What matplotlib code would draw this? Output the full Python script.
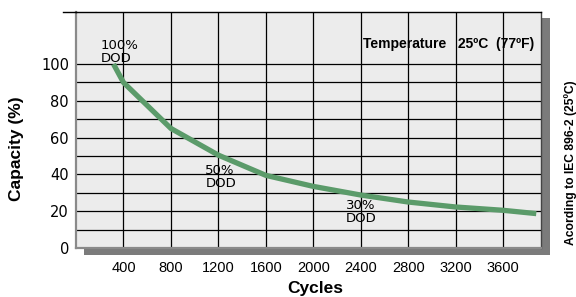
import matplotlib
matplotlib.use('Agg')
import matplotlib.pyplot as plt
from matplotlib.patches import Rectangle
from matplotlib.lines import Line2D
from matplotlib import font_manager

# data
cycles = [316, 400, 800, 1200, 1600, 2000, 2400, 2800, 3200, 3600, 3880]
capacity = [100, 90, 65, 50.5, 39.5, 33.5, 28.8, 25.0, 22.3, 20.5, 18.7]
x_ticks = [400, 800, 1200, 1600, 2000, 2400, 2800, 3200, 3600]
y_ticks = [0, 20, 40, 60, 80, 100]
dod_labels = ['100%\nDOD', '50%\nDOD', '30%\nDOD']

names = set(f.name for f in font_manager.fontManager.ttflist)
narrow = 'Liberation Sans Narrow' if 'Liberation Sans Narrow' in names else 'Liberation Sans'

W, H = 576, 297
fig = plt.figure(figsize=(W / 100, H / 100), dpi=100)
fig.patch.set_facecolor('white')

# plot box in pixels (from top-left)
L, R, T, B = 76, 541, 12, 248
ax = fig.add_axes([L / W, 1 - B / H, (R - L) / W, (B - T) / H])
ax.set_facecolor('#ececec')
ax.set_zorder(2)

# drop shadow behind the box
shadow = Rectangle((84 / W, 1 - 255 / H), (550 - 84) / W, (255 - 18) / H,
                   transform=fig.transFigure, facecolor='#7b7b7b',
                   edgecolor='none', zorder=-1)
fig.add_artist(shadow)
fig.add_artist(Line2D([63 / W, L / W], [1 - T / H, 1 - T / H],
                      transform=fig.transFigure, color='black', lw=1.0, zorder=3))

ax.set_xlim(0, 3920)
ax.set_ylim(0, 128.3)

for gx in x_ticks:
    ax.axvline(gx, color='black', lw=0.9, zorder=1)
for gy in range(10, 101, 10):
    ax.axhline(gy, color='black', lw=0.9, zorder=1)

ax.plot(cycles, capacity, color='#5b9b6a', lw=3.8, solid_capstyle='butt', zorder=3)

ax.text(206, 113.5, dod_labels[0], fontsize=9.5, family='DejaVu Sans', va='top',
        linespacing=0.95, zorder=4)
ax.text(1090, 45.5, dod_labels[1], fontsize=9.5, family='DejaVu Sans', va='top',
        linespacing=0.95, zorder=4)
ax.text(2275, 26.5, dod_labels[2], fontsize=9.5, family='DejaVu Sans', va='top',
        linespacing=0.95, zorder=4)

ax.text((363 - L) / (R - L), 0.866, 'Temperature   25ºC  (77ºF)', transform=ax.transAxes,
        fontsize=10, fontweight='bold', family=narrow, va='center', ha='left')

ax.set_xticks(x_ticks)
ax.set_xticklabels([str(v) for v in x_ticks], family=narrow, fontsize=10.5)
ax.set_yticks(y_ticks)
ax.set_yticklabels([str(v) for v in y_ticks], family='DejaVu Sans', fontsize=10.5)
ax.tick_params(axis='both', length=0)
ax.tick_params(axis='x', pad=9)
ax.tick_params(axis='y', pad=5)

ax.set_xlabel('Cycles', fontsize=12.5, fontweight='bold', family=narrow)
ax.xaxis.set_label_coords((315 - L) / (R - L), -(288 - B) / (B - T))
ax.xaxis.label.set_va('center')
ax.set_ylabel('Capacity (%)', fontsize=12.5, fontweight='bold', family=narrow)
ax.yaxis.set_label_coords(-(L - 17) / (R - L), (B - 149) / (B - T))
ax.yaxis.label.set_va('center')

fig.text(571 / W, 1 - 163 / H, 'Acording to IEC 896-2 (25ºC)', rotation=90,
         fontsize=8.7, fontweight='bold', family=narrow, ha='center', va='center')

ax.spines['left'].set_color('#8a8a8a')
ax.spines['left'].set_linewidth(1.6)
ax.spines['bottom'].set_color('#8a8a8a')
ax.spines['bottom'].set_linewidth(1.6)
ax.spines['top'].set_color('black')
ax.spines['top'].set_linewidth(1.0)
ax.spines['right'].set_color('#444444')
ax.spines['right'].set_linewidth(1.0)

fig.savefig('out.png', dpi=100)
